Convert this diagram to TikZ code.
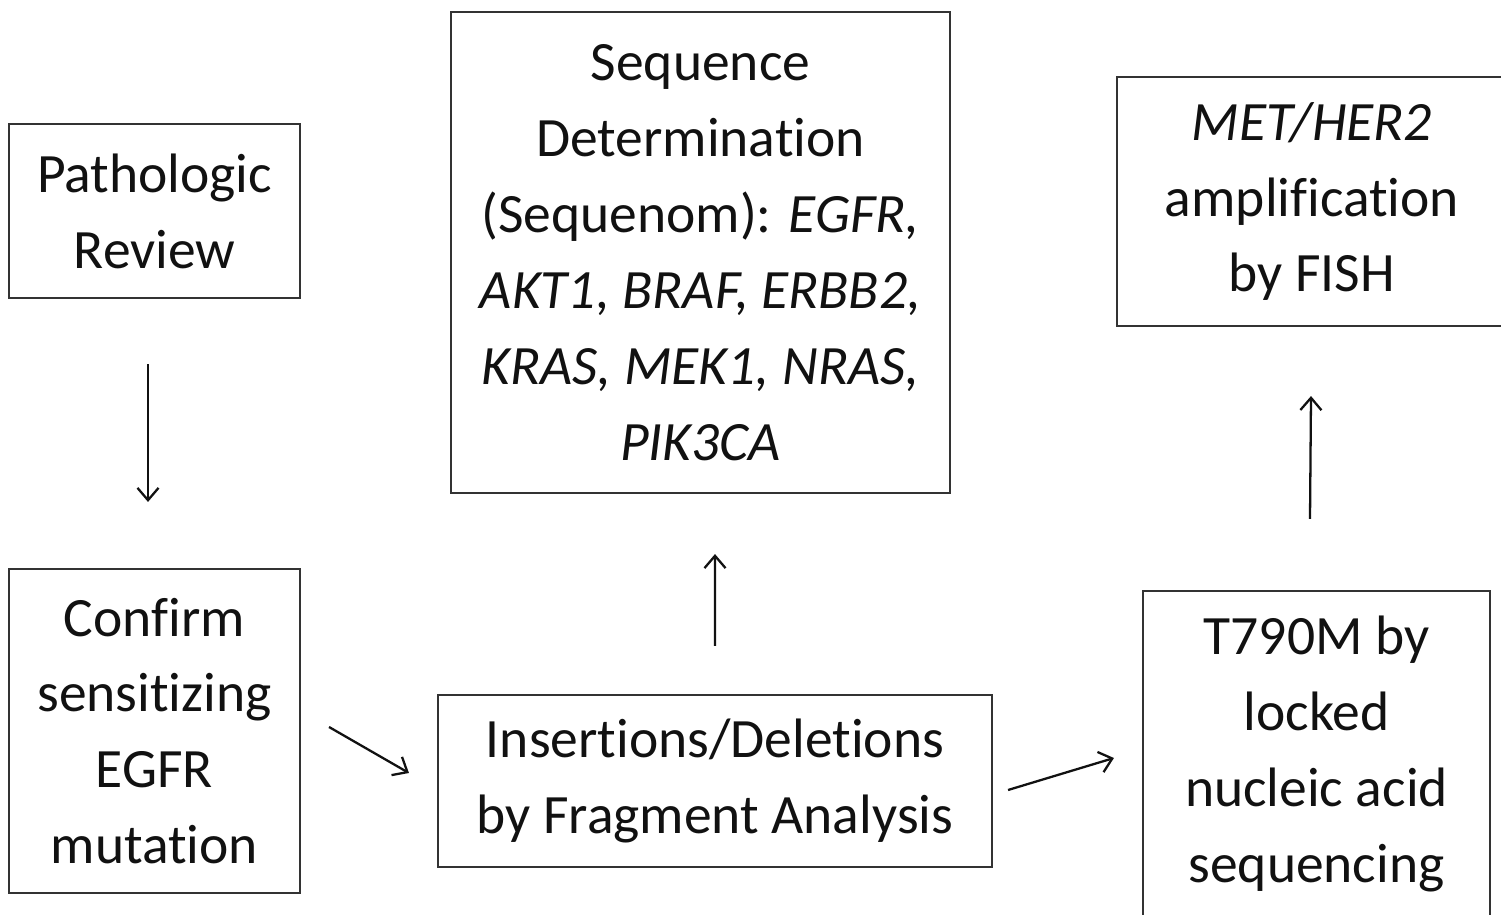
\documentclass[tikz,border=0pt]{standalone}
\usepackage{fontspec}
\setmainfont[Ligatures=NoCommon]{Carlito}
\usepackage{tikz}
\usetikzlibrary{calc,arrows.meta}
\definecolor{ink}{HTML}{111111}
\definecolor{edge}{HTML}{333333}
\tikzset{
  box/.style={draw=edge, line width=1.2pt, align=center, text=ink, inner sep=0pt,
    font=\fontsize{31.6}{43.2}\selectfont},
  arr/.style={draw=ink, line width=1.3pt, -{Straight Barb[length=7pt,width=12pt,line width=1.3pt]}}
}

\begin{document}
\begin{tikzpicture}[x=0.02cm,y=-0.02cm]
  \useasboundingbox (0,0) rectangle (1501,915);

  \node[box, minimum width=291*0.02cm, minimum height=174*0.02cm] (path) at (154.5,211)
    {Pathologic\\Review};
  \node[box, minimum width=291*0.02cm, minimum height=324*0.02cm] (conf) at (154.5,731)
    {Confirm\\sensitizing\\EGFR\\mutation};
  \node[box, minimum width=499*0.02cm, minimum height=481*0.02cm] (seq) at (700.5,252.5)
    {Sequence\\Determination\\(Sequenom): \textit{EGFR,}\\\textit{AKT1, BRAF, ERBB2,}\\\textit{KRAS, MEK1, NRAS,}\\\textit{PIK3CA}};
  \node[box, minimum width=554*0.02cm, minimum height=172*0.02cm] (indel) at (715,781)
    {Insertions/Deletions\\by Fragment Analysis};
  \node[box, minimum width=390*0.02cm, minimum height=249*0.02cm] (met) at (1312,201.5)
    {\textit{MET/HER2}\\amplification\\by FISH};
  \node[box, minimum width=347*0.02cm, minimum height=326*0.02cm] (t790) at (1316.5,754)
    {T790M by\\locked\\nucleic acid\\sequencing};

  \draw[arr] ([shift={(-6.5,65)}]path.south) -- ([shift={(-6.5,-66)}]conf.north);
  \draw[arr] ([shift={(28,-4)}]conf.east) -- ([shift={(-28,-8)}]indel.west);
  \draw[arr] ([shift={(0,-48)}]indel.north) -- ([shift={(14.5,60)}]seq.south);
  \draw[arr] ([shift={(15,9)}]indel.east) -- ([shift={(-28,4)}]t790.west);
  \draw[arr] ([shift={(-6.5,-71)}]t790.north) -- ([shift={(-1,69)}]met.south);
\end{tikzpicture}
\end{document}
